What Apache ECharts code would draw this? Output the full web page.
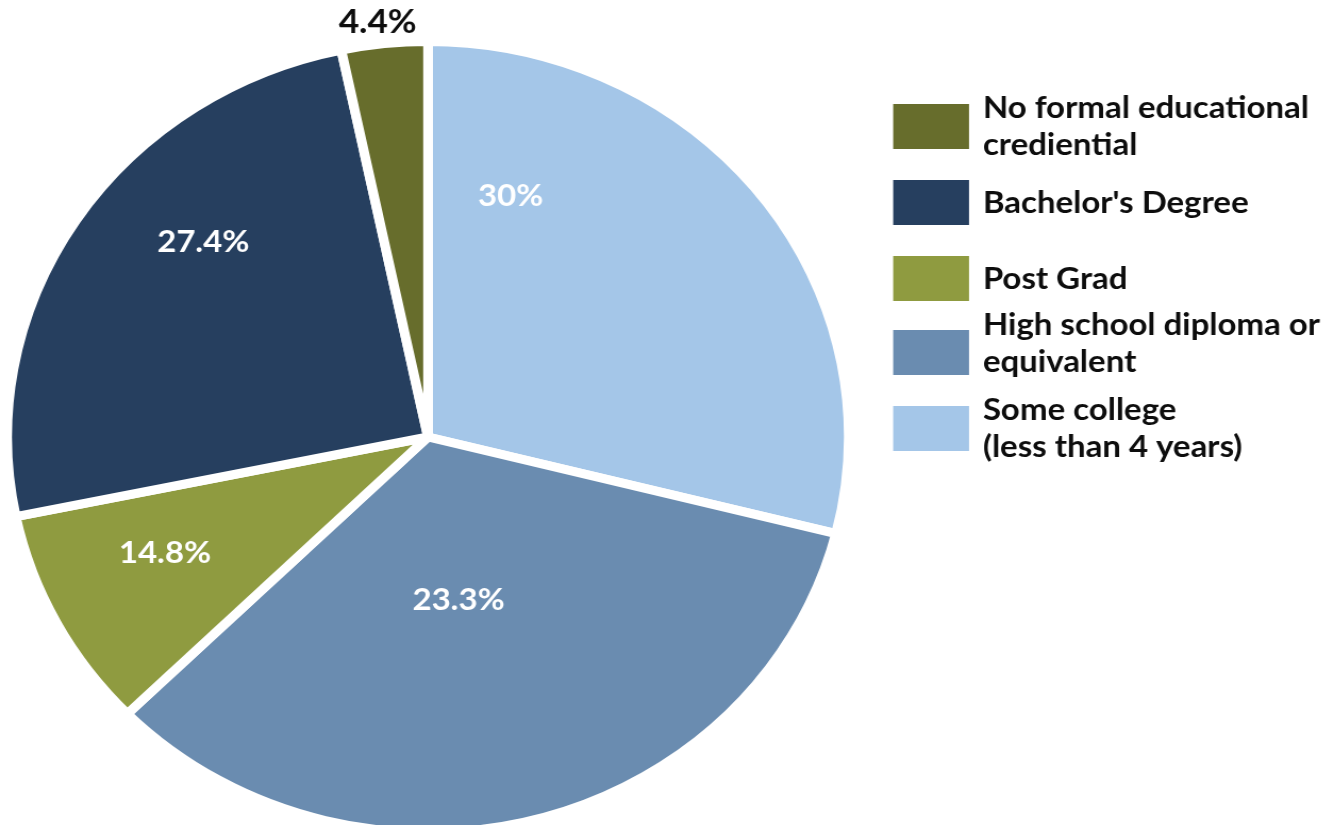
<!DOCTYPE html>
<html>
<head>
<meta charset="utf-8">
<script src="https://cdn.jsdelivr.net/npm/echarts@6/dist/echarts.min.js"></script>
<style>
  html, body { margin: 0; padding: 0; background: #ffffff; overflow: hidden; }
  #wrap { width: 1327px; height: 825px; overflow: hidden; }
  /* the reference pie is slightly wider than tall (an ellipse); stretch horizontally */
  #chart { width: 1248px; height: 825px; transform: scaleX(1.0638); transform-origin: 0 0; }
</style>
</head>
<body>
<div id="wrap"><div id="chart"></div></div>
<script>
// Categories in drawing order (clockwise from 12 o'clock)
const categories = [
  'Some college\n(less than 4 years)',
  'High school diploma or\nequivalent',
  'Post Grad',
  "Bachelor's Degree",
  'No formal educational\ncrediential'
];
// Slice shares as drawn in the picture (angles, in %)
const sliceShares = [28.9, 33.7, 9.1, 24.9, 3.3];
// Percent labels as printed on the chart
const printedLabels = ['30%', '23.3%', '14.8%', '27.4%', '4.4%'];
// Legend order as shown
const legendOrder = [4, 3, 2, 1, 0];

const colors = ['#a4c6e8', '#6a8cb0', '#8f9b40', '#263f5f', '#676d2c'];
const labelColors = ['#ffffff', '#ffffff', '#ffffff', '#ffffff', '#0d0d0d'];
const labelSizes = [31, 31, 31, 31, 33];
const labelPos = [[480, 196], [431, 600], [155, 553], [191, 242], [355, 22]];

const FONT = 'Lato, "Open Sans", sans-serif';

const chart = echarts.init(document.getElementById('chart'), null, { renderer: 'canvas' });

const boxTops = [103, 178, 254, 329, 405];
const itemH = 47;
const lineH = 37;
const legends = legendOrder.map((idx, i) => {
  const lines = categories[idx].split('\n');
  const extra = (idx === 1) ? 18 : 0;
  const textH = lines.length * lineH + extra;
  const over = Math.max(0, (textH - itemH) / 2);
  return {
    show: true,
    orient: 'vertical',
    left: 837.6,
    top: boxTops[i] - over,
    padding: 0,
    itemWidth: 73.3,
    itemHeight: itemH,
    itemGap: 0,
    icon: 'rect',
    selectedMode: false,
    data: [categories[idx]],
    formatter: (name) => {
      const ls = name.split('\n').map(l => '{a|' + l + '}');
      if (extra) ls.push('{g| }');
      return ls.join('\n');
    },
    textStyle: {
      fontFamily: FONT,
      fontWeight: 'bold',
      fontSize: 31,
      color: '#0d0d0d',
      lineHeight: lineH,
      rich: {
        a: {
          fontFamily: FONT, fontWeight: 'bold', fontSize: 31, color: '#0d0d0d',
          lineHeight: lineH, padding: [0, 0, 0, 7]
        },
        g: { fontSize: 10, lineHeight: 18, height: 18 }
      }
    }
  };
});

chart.setOption({
  backgroundColor: '#ffffff',
  animation: false,
  color: colors,
  legend: legends,
  series: [{
    type: 'pie',
    center: [402.3, 437],
    radius: 395.5,
    startAngle: 90,
    clockwise: true,
    avoidLabelOverlap: false,
    itemStyle: {
      borderColor: '#ffffff',
      borderWidth: 9
    },
    labelLine: { show: false },
    label: {
      show: true,
      position: 'inside',
      fontFamily: FONT,
      fontWeight: 'bold',
      formatter: (p) => printedLabels[p.dataIndex]
    },
    labelLayout: (p) => ({
      x: labelPos[p.dataIndex][0],
      y: labelPos[p.dataIndex][1],
      align: 'center',
      verticalAlign: 'middle'
    }),
    emphasis: { disabled: true },
    data: categories.map((name, i) => ({
      name: name,
      value: sliceShares[i],
      itemStyle: { color: colors[i] },
      label: { color: labelColors[i], fontSize: labelSizes[i] }
    }))
  }]
});
</script>
</body>
</html>
